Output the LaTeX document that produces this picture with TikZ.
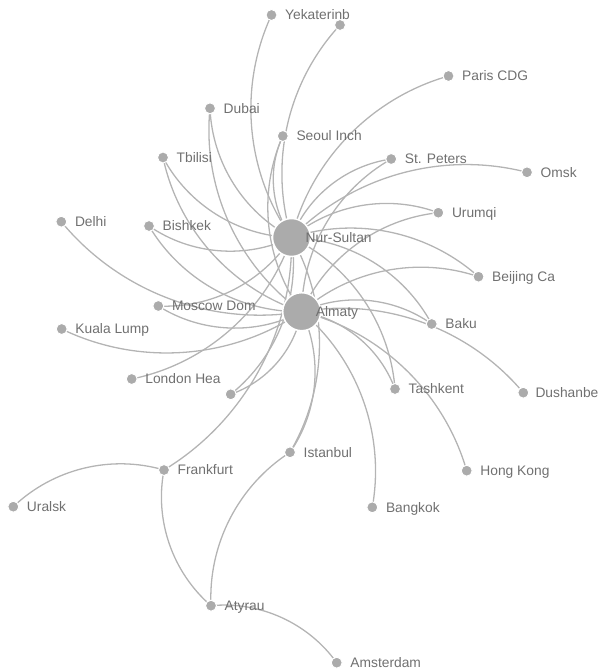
\documentclass[tikz,border=0pt]{standalone}
\usepackage{fontspec}
\setmainfont{Liberation Sans}
\definecolor{nodegray}{HTML}{ABABAB}
\definecolor{linegray}{HTML}{B4B4B4}
\definecolor{textgray}{HTML}{707070}
\pgfdeclarelayer{background}
\pgfsetlayers{background,main}
\tikzset{
  dot/.style={circle, fill=nodegray, draw=white, line width=1pt, inner sep=0pt, minimum size=11pt},
  hub/.style={circle, fill=nodegray, draw=white, line width=1.5pt, inner sep=0pt, minimum size=38pt},
  lbl/.style={anchor=base west, inner sep=0pt, text=textgray, font=\fontsize{13.8}{16}\selectfont},
  link/.style={draw=linegray, line width=1.3pt, bend left=30, looseness=0.91}
}
\begin{document}
\begin{tikzpicture}[x=1pt,y=-1pt]
\useasboundingbox (0,0) rectangle (599,671);
% nodes
\node[hub] (ns) at (291.5,237.5) {};
\node[hub] (al) at (301.7,311.7) {};
\node[dot] (yek) at (271.5,15) {};
\node[dot] (top) at (340,25) {};
\node[dot] (par) at (448.5,76) {};
\node[dot] (dub) at (210,108.3) {};
\node[dot] (seo) at (282.8,136) {};
\node[dot] (tbi) at (163,157.5) {};
\node[dot] (stp) at (391.2,159) {};
\node[dot] (oms) at (527,172.3) {};
\node[dot] (del) at (61.3,221.7) {};
\node[dot] (bis) at (149,226) {};
\node[dot] (uru) at (438.3,212.7) {};
\node[dot] (bei) at (478.5,276.7) {};
\node[dot] (mos) at (158.3,306) {};
\node[dot] (bak) at (431.7,324) {};
\node[dot] (kua) at (61.7,329) {};
\node[dot] (lon) at (131.7,379) {};
\node[dot] (unl) at (230.7,394.3) {};
\node[dot] (tas) at (395,389) {};
\node[dot] (dus) at (523.3,392.7) {};
\node[dot] (ist) at (290,452.3) {};
\node[dot] (fra) at (164,470) {};
\node[dot] (hkg) at (466.7,470.7) {};
\node[dot] (ura) at (13.3,506.7) {};
\node[dot] (ban) at (372.3,507.3) {};
\node[dot] (aty) at (211,605.7) {};
\node[dot] (ams) at (336.7,662.7) {};
% links
\begin{pgfonlayer}{background}
\foreach \t in {yek,top,par,dub,seo,tbi,stp,oms,bis,uru,bei,mos,bak,lon,unl,tas,ist,fra}
  \draw[link] (ns.center) to (\t.center);
\foreach \t in {dub,seo,tbi,stp,del,bis,uru,bei,mos,bak,kua,unl,tas,dus,ist,hkg,ban}
  \draw[link] (al.center) to (\t.center);
\draw[link] (ura.center) to (fra.center);
\draw[link] (aty.center) to (fra.center);
\draw[link] (aty.center) to (ist.center);
\draw[link] (aty.center) to (ams.center);
\end{pgfonlayer}
% labels
\node[lbl] (nsL) at (305.5,242.3) {Nur-Sultan};
\node[lbl] (alL) at (315.7,316.5) {Almaty};
\node[lbl] (yekL) at (285,19.8) {Yekaterinb};
\node[lbl] (parL) at (462,80.8) {Paris CDG};
\node[lbl] (dubL) at (223.5,113.1) {Dubai};
\node[lbl] (seoL) at (296.3,140.8) {Seoul Inch};
\node[lbl] (tbiL) at (176.5,162.3) {Tbilisi};
\node[lbl] (stpL) at (404.7,163.8) {St. Peters};
\node[lbl] (omsL) at (540.5,177.1) {Omsk};
\node[lbl] (delL) at (74.8,226.5) {Delhi};
\node[lbl] (bisL) at (162.5,230.8) {Bishkek};
\node[lbl] (uruL) at (451.8,217.5) {Urumqi};
\node[lbl] (beiL) at (492,281.5) {Beijing Ca};
\node[lbl] (mosL) at (171.8,310.8) {Moscow Dom};
\node[lbl] (bakL) at (445.2,328.8) {Baku};
\node[lbl] (kuaL) at (75.2,333.8) {Kuala Lump};
\node[lbl] (lonL) at (145.2,383.8) {London Hea};
\node[lbl] (tasL) at (408.5,393.8) {Tashkent};
\node[lbl] (dusL) at (535.3,397.5) {Dushanbe};
\node[lbl] (istL) at (303.5,457.1) {Istanbul};
\node[lbl] (fraL) at (177.5,474.8) {Frankfurt};
\node[lbl] (hkgL) at (480.2,475.5) {Hong Kong};
\node[lbl] (uraL) at (26.8,511.5) {Uralsk};
\node[lbl] (banL) at (385.8,512.1) {Bangkok};
\node[lbl] (atyL) at (224.5,610.5) {Atyrau};
\node[lbl] (amsL) at (350.2,667.5) {Amsterdam};
\end{tikzpicture}
\end{document}
